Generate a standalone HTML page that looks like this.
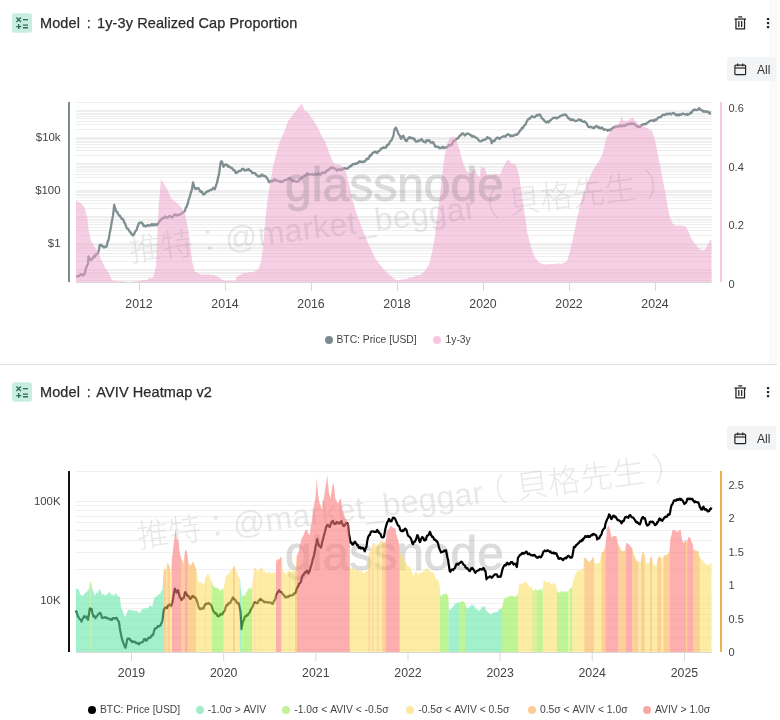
<!DOCTYPE html>
<html lang="zh-Hant"><head><meta charset="utf-8"><title>Models</title>
<style>
html,body{margin:0;padding:0;background:#fff;}
body{width:780px;height:720px;position:relative;overflow:hidden;font-family:"Liberation Sans","Noto Sans CJK TC",sans-serif;color:#333;}
.hdr{position:absolute;left:0;width:780px;height:90px;}
.ico{position:absolute;left:12px;top:0;width:20px;height:20px;}
.title{position:absolute;left:40px;top:1px;font-size:14.5px;line-height:18px;color:#2b2b2b;white-space:nowrap;letter-spacing:0.1px;-webkit-text-stroke:0.25px #2b2b2b;}
.trash{position:absolute;left:734px;top:3px;width:12.5px;height:14.3px;}
.dots{position:absolute;left:765.8px;top:4px;width:4px;height:12px;}
.all{position:absolute;left:727px;top:44px;width:49px;height:24px;background:#f3f4f6;border-radius:3px;}
.cal{position:absolute;left:7px;top:6px;width:12.5px;height:12.5px;}
.all span{position:absolute;left:30px;top:4.8px;font-size:12px;line-height:16px;color:#333;}
.title b{font-weight:normal;margin:0 2.1px 0 2.6px;}
.band{position:absolute;left:769px;top:0;width:9px;height:364px;background:#fafafa;}
.sep{position:absolute;left:0;top:364px;width:777px;height:1px;background:#dedede;}
svg.chart{position:absolute;left:0;top:0;}
.lg{position:absolute;font-size:10.3px;line-height:14px;color:#444;white-space:nowrap;}
.lg i{position:absolute;width:8px;height:8px;border-radius:50%;top:3px;}
.lg span{position:absolute;top:0;}
</style></head><body>
<div class="band"></div>
<div class="hdr" style="top:13px"><svg class="ico" viewBox="0 0 20 20"><rect width="20" height="19.4" y="0.3" rx="2.5" fill="#c9ede0"/><g stroke="#2f6f55" stroke-width="1.35" fill="none"><path d="M4.4 4.5l4.6 4.6M9 4.5l-4.6 4.6"/><path d="M10.9 6.7h5.1"/><path d="M6.7 11.1v5M4.2 13.6h5"/><path d="M10.9 12.1h5.1M10.9 14.7h5.1"/></g></svg><span class="title">Model <b>:</b> 1y-3y Realized Cap Proportion</span><svg class="trash" viewBox="0 0 14 16" fill="none" stroke="#222" stroke-width="1.4"><path d="M4.8 1h4.4"/><path d="M0.6 3.4h12.8"/><path d="M2.2 3.4v10.9h9.6V3.4"/><path d="M5.4 5.6v6.6M8.6 5.6v6.6"/></svg><svg class="dots" viewBox="0 0 4 12"><rect x="0.9" y="0.9" width="2.3" height="2.3" rx="0.6" fill="#222"/><rect x="0.9" y="4.9" width="2.3" height="2.3" rx="0.6" fill="#222"/><rect x="0.9" y="8.9" width="2.3" height="2.3" rx="0.6" fill="#222"/></svg><div class="all"><svg class="cal" viewBox="0 0 14 14" fill="none" stroke="#222" stroke-width="1.3"><rect x="1" y="2.3" width="12" height="10.8" rx="1.2"/><path d="M1 5.6h12"/><path d="M4.2 0.6v3M9.8 0.6v3"/></svg><span>All</span></div></div>
<div class="hdr" style="top:382px"><svg class="ico" viewBox="0 0 20 20"><rect width="20" height="19.4" y="0.3" rx="2.5" fill="#c9ede0"/><g stroke="#2f6f55" stroke-width="1.35" fill="none"><path d="M4.4 4.5l4.6 4.6M9 4.5l-4.6 4.6"/><path d="M10.9 6.7h5.1"/><path d="M6.7 11.1v5M4.2 13.6h5"/><path d="M10.9 12.1h5.1M10.9 14.7h5.1"/></g></svg><span class="title">Model <b>:</b> AVIV Heatmap v2</span><svg class="trash" viewBox="0 0 14 16" fill="none" stroke="#222" stroke-width="1.4"><path d="M4.8 1h4.4"/><path d="M0.6 3.4h12.8"/><path d="M2.2 3.4v10.9h9.6V3.4"/><path d="M5.4 5.6v6.6M8.6 5.6v6.6"/></svg><svg class="dots" viewBox="0 0 4 12"><rect x="0.9" y="0.9" width="2.3" height="2.3" rx="0.6" fill="#222"/><rect x="0.9" y="4.9" width="2.3" height="2.3" rx="0.6" fill="#222"/><rect x="0.9" y="8.9" width="2.3" height="2.3" rx="0.6" fill="#222"/></svg><div class="all"><svg class="cal" viewBox="0 0 14 14" fill="none" stroke="#222" stroke-width="1.3"><rect x="1" y="2.3" width="12" height="10.8" rx="1.2"/><path d="M1 5.6h12"/><path d="M4.2 0.6v3M9.8 0.6v3"/></svg><span>All</span></div></div>
<div class="sep"></div>
<svg class="chart" width="780" height="720" viewBox="0 0 780 720" font-family='"Liberation Sans","Noto Sans CJK TC",sans-serif'>
<!-- chart 1 -->
<g stroke="#eeeeee" stroke-width="1" shape-rendering="crispEdges"><line x1="76" x2="712" y1="280.5" y2="280.5"/><line x1="76" x2="712" y1="277.5" y2="277.5"/><line x1="76" x2="712" y1="275.5" y2="275.5"/><line x1="76" x2="712" y1="273.5" y2="273.5"/><line x1="76" x2="712" y1="272.5" y2="272.5"/><line x1="76" x2="712" y1="270.5" y2="270.5"/><line x1="76" x2="712" y1="269.5" y2="269.5"/><line x1="76" x2="712" y1="261.5" y2="261.5"/><line x1="76" x2="712" y1="256.5" y2="256.5"/><line x1="76" x2="712" y1="253.5" y2="253.5"/><line x1="76" x2="712" y1="250.5" y2="250.5"/><line x1="76" x2="712" y1="248.5" y2="248.5"/><line x1="76" x2="712" y1="247.5" y2="247.5"/><line x1="76" x2="712" y1="245.5" y2="245.5"/><line x1="76" x2="712" y1="244.5" y2="244.5"/><line x1="76" x2="712" y1="243.5" y2="243.5"/><line x1="76" x2="712" y1="235.5" y2="235.5"/><line x1="76" x2="712" y1="230.5" y2="230.5"/><line x1="76" x2="712" y1="227.5" y2="227.5"/><line x1="76" x2="712" y1="224.5" y2="224.5"/><line x1="76" x2="712" y1="222.5" y2="222.5"/><line x1="76" x2="712" y1="220.5" y2="220.5"/><line x1="76" x2="712" y1="219.5" y2="219.5"/><line x1="76" x2="712" y1="217.5" y2="217.5"/><line x1="76" x2="712" y1="216.5" y2="216.5"/><line x1="76" x2="712" y1="208.5" y2="208.5"/><line x1="76" x2="712" y1="203.5" y2="203.5"/><line x1="76" x2="712" y1="200.5" y2="200.5"/><line x1="76" x2="712" y1="197.5" y2="197.5"/><line x1="76" x2="712" y1="195.5" y2="195.5"/><line x1="76" x2="712" y1="194.5" y2="194.5"/><line x1="76" x2="712" y1="192.5" y2="192.5"/><line x1="76" x2="712" y1="191.5" y2="191.5"/><line x1="76" x2="712" y1="190.5" y2="190.5"/><line x1="76" x2="712" y1="182.5" y2="182.5"/><line x1="76" x2="712" y1="177.5" y2="177.5"/><line x1="76" x2="712" y1="174.5" y2="174.5"/><line x1="76" x2="712" y1="171.5" y2="171.5"/><line x1="76" x2="712" y1="169.5" y2="169.5"/><line x1="76" x2="712" y1="167.5" y2="167.5"/><line x1="76" x2="712" y1="166.5" y2="166.5"/><line x1="76" x2="712" y1="164.5" y2="164.5"/><line x1="76" x2="712" y1="163.5" y2="163.5"/><line x1="76" x2="712" y1="155.5" y2="155.5"/><line x1="76" x2="712" y1="150.5" y2="150.5"/><line x1="76" x2="712" y1="147.5" y2="147.5"/><line x1="76" x2="712" y1="144.5" y2="144.5"/><line x1="76" x2="712" y1="142.5" y2="142.5"/><line x1="76" x2="712" y1="141.5" y2="141.5"/><line x1="76" x2="712" y1="139.5" y2="139.5"/><line x1="76" x2="712" y1="138.5" y2="138.5"/><line x1="76" x2="712" y1="137.5" y2="137.5"/><line x1="76" x2="712" y1="129.5" y2="129.5"/><line x1="76" x2="712" y1="124.5" y2="124.5"/><line x1="76" x2="712" y1="121.5" y2="121.5"/><line x1="76" x2="712" y1="118.5" y2="118.5"/><line x1="76" x2="712" y1="116.5" y2="116.5"/><line x1="76" x2="712" y1="114.5" y2="114.5"/><line x1="76" x2="712" y1="113.5" y2="113.5"/><line x1="76" x2="712" y1="111.5" y2="111.5"/><line x1="76" x2="712" y1="110.5" y2="110.5"/><line x1="76" x2="712" y1="102.5" y2="102.5"/></g>
<line x1="76" x2="712" y1="282.5" y2="282.5" stroke="#d8d8d8"/>
<g stroke="#d8d8d8" stroke-width="1"><line x1="139.5" x2="139.5" y1="283" y2="291"/><line x1="225.5" x2="225.5" y1="283" y2="291"/><line x1="311.5" x2="311.5" y1="283" y2="291"/><line x1="397.5" x2="397.5" y1="283" y2="291"/><line x1="483.5" x2="483.5" y1="283" y2="291"/><line x1="569.5" x2="569.5" y1="283" y2="291"/><line x1="655.5" x2="655.5" y1="283" y2="291"/></g>
<path d="M76.0 275.9 L76.8 276.1 L77.5 276.2 L78.2 276.4 L79.0 276.0 L79.8 275.3 L80.5 274.3 L81.2 274.2 L81.9 275.1 L82.6 275.0 L83.3 275.4 L84.0 274.0 L84.8 273.9 L85.4 270.6 L86.0 268.1 L86.7 267.0 L87.3 264.8 L88.0 264.0 L88.5 256.5 L89.1 258.0 L89.8 259.2 L90.4 258.9 L91.0 260.2 L91.8 258.9 L92.5 258.8 L93.2 257.4 L94.0 256.2 L94.8 257.0 L95.5 255.3 L96.2 253.9 L97.0 254.2 L97.8 253.6 L98.5 251.6 L99.1 249.0 L99.8 244.8 L100.5 245.4 L101.2 244.8 L102.0 246.0 L102.8 246.3 L103.5 246.4 L104.2 247.6 L105.0 246.8 L105.8 246.7 L106.5 246.7 L107.2 243.8 L107.8 241.4 L108.5 240.1 L109.1 236.9 L109.8 232.6 L110.4 230.1 L111.0 226.7 L111.6 222.6 L112.2 219.8 L112.9 215.9 L113.5 211.8 L114.2 204.9 L115.1 208.2 L116.0 210.4 L116.8 212.3 L117.5 212.1 L118.2 213.9 L119.0 215.5 L119.8 215.5 L120.4 217.0 L121.0 217.5 L121.6 218.7 L122.2 219.0 L122.9 219.0 L123.5 220.0 L124.1 222.4 L124.8 223.0 L125.5 224.7 L126.2 226.7 L127.0 228.4 L127.8 228.7 L128.5 229.5 L129.2 230.7 L130.0 232.3 L130.8 232.4 L131.5 234.1 L132.2 234.9 L132.8 235.5 L133.5 234.3 L134.1 234.3 L134.8 232.2 L135.4 231.1 L136.0 230.7 L136.8 229.5 L137.5 226.7 L138.2 225.5 L139.0 222.8 L139.7 222.8 L140.3 222.7 L140.9 222.5 L141.6 222.4 L142.2 223.3 L142.9 224.2 L143.5 225.9 L144.1 225.4 L144.8 225.7 L145.5 226.5 L146.2 226.1 L147.0 225.6 L147.8 224.9 L148.5 225.2 L149.2 225.8 L149.9 225.4 L150.6 225.1 L151.4 224.2 L152.1 225.4 L152.8 224.3 L153.5 224.8 L154.2 225.2 L155.0 224.1 L155.8 224.6 L156.5 225.2 L157.2 224.4 L158.0 224.2 L158.8 222.2 L159.5 221.3 L160.2 220.0 L161.0 220.1 L161.8 218.9 L162.5 218.0 L163.2 218.3 L164.0 217.8 L164.8 216.5 L165.4 217.0 L166.0 217.0 L166.6 217.7 L167.2 217.7 L168.0 217.1 L168.8 216.8 L169.5 216.0 L170.2 216.0 L171.0 216.8 L171.7 217.5 L172.4 217.0 L173.1 216.4 L173.9 215.6 L174.6 214.6 L175.3 214.3 L176.0 215.0 L176.7 215.5 L177.4 214.6 L178.1 214.9 L178.9 214.9 L179.6 214.6 L180.3 214.3 L181.0 213.7 L181.8 213.2 L182.5 213.2 L183.2 212.2 L184.0 211.9 L184.7 211.0 L185.3 209.6 L185.9 207.4 L186.6 206.9 L187.2 204.9 L187.9 203.2 L188.5 200.1 L189.1 198.6 L189.8 196.7 L190.4 194.5 L191.1 191.9 L191.8 189.8 L192.4 186.4 L193.0 182.5 L193.9 185.3 L194.8 188.5 L195.5 188.8 L196.2 189.0 L197.0 188.1 L197.8 188.5 L198.5 188.1 L199.1 189.3 L199.8 190.6 L200.4 191.7 L201.0 191.2 L201.6 192.2 L202.2 192.0 L202.9 193.7 L203.5 194.6 L204.1 194.1 L204.8 193.7 L205.4 193.3 L206.0 192.5 L206.8 191.4 L207.5 191.7 L208.2 191.2 L209.0 191.0 L209.8 190.1 L210.4 190.0 L211.1 190.0 L211.7 189.6 L212.3 189.4 L213.0 188.0 L213.9 187.9 L214.8 189.2 L215.4 187.6 L216.0 185.2 L216.6 183.9 L217.2 182.1 L218.1 177.5 L219.0 174.3 L219.8 168.4 L220.5 163.3 L221.1 161.5 L221.8 161.4 L222.6 163.5 L223.5 166.8 L224.1 165.1 L224.8 165.0 L225.4 164.5 L226.0 164.4 L226.8 165.2 L227.5 165.2 L228.2 166.8 L229.0 166.2 L229.8 167.2 L230.5 167.2 L231.2 167.9 L232.0 167.9 L232.8 169.6 L233.5 169.9 L234.2 170.0 L235.0 171.8 L235.8 172.7 L236.0 173.0 L236.6 172.1 L237.2 171.8 L237.9 172.2 L238.5 171.3 L239.2 170.9 L239.9 171.1 L240.6 170.8 L241.4 169.9 L242.1 168.9 L242.8 169.1 L243.5 169.0 L244.2 170.0 L245.0 170.7 L245.8 170.3 L246.5 169.7 L247.2 170.0 L248.0 169.4 L248.8 169.2 L249.5 170.3 L250.2 171.1 L251.0 171.1 L251.7 171.8 L252.4 173.1 L253.1 172.9 L253.9 173.2 L254.6 173.1 L255.3 173.3 L256.0 174.8 L256.8 174.8 L257.5 176.0 L258.2 176.6 L259.0 176.4 L259.8 175.8 L260.4 176.4 L261.0 175.7 L261.6 174.9 L262.2 174.4 L263.0 175.8 L263.8 175.9 L264.5 175.8 L265.2 176.3 L266.0 176.6 L266.6 177.7 L267.2 178.6 L267.9 179.3 L268.5 180.9 L269.1 182.2 L269.8 181.7 L270.5 181.4 L271.2 180.6 L272.0 181.4 L272.8 181.3 L273.5 180.0 L274.2 179.6 L274.9 179.3 L275.6 180.8 L276.4 180.3 L277.1 180.7 L277.8 180.7 L278.5 180.9 L279.2 181.4 L280.0 181.9 L280.8 181.1 L281.5 182.1 L282.2 181.9 L283.0 181.5 L283.8 180.8 L284.5 180.2 L285.2 180.1 L286.0 179.9 L286.8 179.3 L287.5 179.6 L288.2 179.3 L289.0 177.9 L289.8 177.8 L290.5 178.2 L291.2 179.8 L292.0 180.8 L292.8 180.9 L293.5 180.4 L294.2 181.1 L295.0 181.0 L295.8 181.3 L296.5 181.8 L297.2 181.8 L298.0 181.1 L298.8 181.2 L299.5 179.9 L300.2 178.8 L301.0 178.6 L301.8 177.5 L302.5 176.7 L303.2 177.1 L304.0 175.6 L304.8 175.9 L305.4 175.7 L306.0 174.7 L306.6 173.5 L307.2 173.4 L307.9 174.6 L308.5 173.7 L309.1 174.1 L309.8 174.5 L310.5 174.6 L311.2 174.4 L312.0 173.9 L312.8 174.6 L313.5 175.2 L314.2 174.2 L315.0 173.7 L315.8 174.6 L316.5 174.9 L317.2 174.3 L318.0 173.3 L318.8 173.8 L319.5 174.6 L320.2 175.0 L321.0 173.9 L321.7 172.8 L322.4 173.3 L323.1 172.3 L323.9 172.4 L324.6 173.0 L325.3 172.7 L326.0 171.4 L326.7 170.5 L327.4 171.1 L328.1 169.7 L328.9 169.6 L329.6 169.0 L330.3 167.9 L331.0 168.2 L331.8 167.5 L332.5 167.4 L333.2 168.0 L334.0 167.9 L334.8 168.7 L335.5 168.8 L336.2 169.8 L337.0 170.6 L337.8 169.6 L338.5 169.9 L339.2 169.3 L339.9 169.6 L340.6 169.5 L341.4 170.3 L342.1 169.5 L342.8 168.4 L343.5 169.0 L344.2 168.1 L344.9 168.4 L345.6 168.3 L346.4 168.9 L347.1 168.5 L347.8 168.3 L348.5 167.4 L349.2 167.1 L349.9 166.2 L350.6 166.4 L351.4 165.9 L352.1 164.7 L352.8 164.0 L353.5 164.1 L354.2 164.3 L355.0 163.4 L355.8 163.8 L356.5 163.9 L357.2 162.9 L358.0 163.0 L358.8 161.9 L359.5 161.3 L360.2 161.8 L361.0 161.6 L361.8 162.2 L362.5 161.9 L363.2 161.4 L364.0 162.0 L364.8 161.2 L365.5 160.9 L366.2 159.3 L367.0 158.4 L367.8 159.2 L368.5 158.5 L369.2 157.0 L370.0 155.3 L370.8 155.7 L371.5 154.8 L372.2 153.7 L372.9 152.7 L373.5 152.8 L374.1 152.1 L374.8 151.7 L375.4 151.6 L376.0 152.5 L376.6 152.6 L377.2 153.0 L378.0 151.3 L378.8 151.4 L379.5 150.6 L380.2 150.1 L381.0 148.4 L381.6 148.8 L382.2 148.1 L382.9 147.8 L383.5 147.2 L384.1 148.0 L384.8 147.8 L385.4 147.2 L386.0 147.6 L386.6 146.0 L387.2 144.7 L387.9 145.3 L388.5 144.4 L389.1 144.0 L389.8 141.9 L390.4 141.2 L391.0 141.0 L391.6 140.0 L392.2 138.4 L392.9 137.0 L393.5 135.4 L394.1 131.5 L394.8 128.8 L395.8 127.8 L396.0 127.6 L397.0 130.2 L397.8 131.7 L398.5 134.1 L399.1 134.9 L399.8 135.8 L400.4 137.2 L401.0 138.9 L401.6 137.9 L402.2 136.3 L402.9 136.8 L403.5 135.7 L404.1 137.8 L404.8 139.1 L405.4 140.3 L406.0 140.9 L406.8 141.1 L407.5 139.1 L408.2 138.7 L409.0 137.5 L409.8 137.1 L410.5 138.2 L411.2 137.8 L412.0 138.0 L412.8 138.0 L413.5 139.3 L414.2 138.8 L415.0 139.7 L415.8 141.6 L416.5 141.5 L417.2 141.8 L418.0 141.2 L418.8 140.4 L419.5 140.6 L420.2 140.5 L421.0 139.3 L421.8 139.2 L422.5 140.2 L423.2 141.5 L424.0 141.9 L424.8 141.6 L425.5 142.5 L426.2 140.8 L427.0 140.0 L427.8 140.9 L428.5 140.6 L429.2 140.1 L429.9 141.0 L430.6 142.5 L431.4 142.6 L432.1 142.5 L432.8 142.0 L433.5 142.6 L434.1 144.3 L434.8 145.1 L435.4 146.9 L436.0 146.8 L436.8 146.7 L437.5 146.5 L438.2 147.3 L439.0 147.2 L439.8 148.4 L440.5 148.0 L441.2 147.8 L442.0 147.2 L442.8 146.7 L443.5 148.3 L444.2 147.5 L445.0 147.6 L445.8 147.4 L446.5 147.5 L447.2 147.0 L448.0 146.0 L448.8 145.0 L449.5 145.1 L450.2 145.6 L451.0 144.7 L451.8 144.7 L452.5 143.0 L453.2 141.3 L454.0 141.0 L454.8 140.6 L455.5 140.0 L456.2 139.0 L457.0 138.6 L457.8 138.3 L458.5 137.6 L459.2 136.5 L460.0 135.5 L460.8 135.4 L461.5 133.9 L462.1 133.4 L462.8 133.6 L463.4 133.5 L464.1 134.8 L464.8 135.5 L465.5 135.0 L466.2 134.2 L467.0 133.5 L467.8 133.4 L468.5 133.8 L469.2 134.0 L470.0 135.1 L470.8 135.3 L471.5 135.2 L472.2 136.9 L473.0 136.2 L473.8 136.3 L474.5 136.7 L475.2 137.2 L476.0 137.6 L476.8 137.9 L477.5 138.4 L478.2 139.8 L479.0 140.4 L479.8 141.2 L480.5 141.3 L481.2 141.2 L482.0 140.7 L482.8 140.0 L483.5 139.9 L484.2 139.7 L485.0 139.8 L485.8 139.2 L486.5 138.6 L487.2 137.1 L487.9 138.2 L488.5 138.1 L489.1 137.8 L489.8 138.4 L490.4 139.1 L491.1 140.6 L491.8 143.1 L492.5 142.0 L493.2 140.8 L494.0 141.2 L494.8 140.8 L495.5 139.3 L496.2 138.3 L497.0 137.7 L497.8 137.6 L498.5 138.3 L499.2 139.0 L499.9 138.6 L500.6 137.6 L501.4 137.3 L502.1 137.0 L502.8 136.6 L503.5 136.4 L504.2 136.1 L504.9 136.6 L505.6 136.6 L506.4 135.1 L507.1 135.0 L507.8 134.1 L508.5 134.5 L509.2 134.6 L510.0 135.8 L510.8 136.3 L511.5 135.3 L512.2 135.5 L513.0 136.1 L513.8 135.5 L514.5 135.0 L515.2 134.6 L516.0 134.7 L516.8 134.9 L517.5 133.7 L518.2 133.6 L519.0 132.4 L519.8 130.6 L520.5 130.5 L521.2 129.3 L522.0 127.7 L522.8 128.2 L523.5 126.7 L524.1 125.9 L524.8 125.0 L525.4 124.9 L526.0 123.3 L526.6 121.8 L527.2 120.7 L527.9 119.4 L528.5 119.3 L529.2 118.4 L530.0 118.5 L530.8 117.3 L531.5 116.6 L532.2 116.1 L533.0 116.9 L533.8 117.2 L534.5 117.3 L535.2 116.8 L536.0 115.9 L536.8 115.0 L537.5 115.7 L538.2 115.4 L539.0 114.6 L539.6 114.5 L540.3 114.9 L541.0 116.6 L541.6 118.2 L542.2 118.1 L542.9 119.3 L543.5 119.4 L544.1 120.4 L544.8 121.2 L545.5 121.8 L546.2 122.5 L547.0 122.1 L547.8 121.3 L548.5 122.3 L549.2 121.8 L550.0 120.6 L550.8 120.1 L551.5 119.4 L552.2 118.8 L553.0 118.0 L553.6 117.9 L554.4 117.8 L555.0 118.0 L555.8 117.4 L556.0 117.9 L556.8 118.3 L557.5 118.3 L558.2 117.6 L559.0 117.1 L559.8 116.1 L560.5 116.4 L561.2 115.5 L562.0 115.3 L562.8 115.3 L563.5 114.7 L564.2 114.8 L565.0 114.5 L565.8 114.6 L566.5 115.5 L567.2 116.8 L568.0 117.8 L568.8 118.6 L569.5 118.4 L570.2 119.8 L571.0 119.5 L571.8 120.0 L572.5 119.1 L573.2 120.0 L574.0 120.3 L574.8 120.6 L575.5 121.2 L576.2 120.8 L577.0 120.7 L577.8 120.4 L578.5 119.4 L579.2 119.3 L580.0 119.7 L580.8 120.8 L581.5 120.3 L582.2 121.2 L583.0 121.8 L583.8 121.9 L584.5 121.3 L585.2 122.0 L586.0 122.7 L586.8 123.7 L587.5 125.4 L588.2 126.7 L589.0 127.1 L589.8 127.1 L590.5 126.5 L591.2 127.2 L592.0 127.4 L592.8 127.9 L593.5 127.5 L594.2 128.1 L595.0 127.0 L595.8 126.4 L596.5 126.0 L597.2 126.4 L598.0 127.6 L598.8 126.9 L599.5 127.7 L600.2 128.5 L601.0 128.1 L601.8 127.4 L602.5 128.1 L603.2 129.1 L604.0 129.8 L604.8 129.5 L605.5 129.6 L606.2 129.6 L607.0 129.8 L607.8 130.9 L608.5 130.3 L609.2 129.6 L610.0 129.7 L610.8 130.4 L611.5 129.1 L612.2 128.5 L613.0 127.3 L613.8 127.6 L614.5 127.7 L615.2 126.7 L616.0 126.5 L616.8 126.4 L617.5 126.6 L618.2 126.7 L619.0 126.7 L619.8 125.5 L620.5 125.3 L621.2 126.0 L622.0 126.5 L622.8 125.4 L623.5 125.4 L624.2 125.6 L625.0 125.9 L625.8 124.6 L626.5 124.7 L627.2 124.5 L628.0 124.7 L628.8 123.9 L629.5 123.7 L630.2 123.6 L631.0 124.3 L631.8 123.3 L632.5 124.0 L633.2 123.3 L634.0 124.1 L634.8 124.2 L635.5 125.2 L636.2 125.8 L637.0 126.1 L637.8 126.8 L638.5 126.6 L639.2 126.9 L640.0 127.3 L640.8 125.8 L641.5 125.0 L642.2 125.1 L643.0 124.1 L643.8 124.1 L644.5 124.1 L645.2 124.4 L646.0 124.2 L646.8 122.9 L647.5 122.5 L648.2 122.3 L649.0 121.6 L649.8 121.0 L650.5 120.9 L651.2 120.5 L652.0 120.7 L652.8 120.4 L653.5 120.5 L654.2 121.2 L655.0 119.5 L655.8 119.9 L656.5 119.9 L657.2 119.0 L658.0 117.7 L658.8 117.5 L659.5 117.0 L660.2 117.2 L661.0 117.0 L661.6 116.3 L662.2 115.2 L662.9 114.9 L663.5 114.7 L664.2 115.1 L665.0 114.9 L665.8 114.1 L666.5 113.7 L667.2 114.2 L668.0 114.4 L668.8 113.5 L669.5 113.7 L670.2 113.6 L671.0 114.4 L671.8 113.5 L672.5 113.3 L673.2 112.9 L674.0 113.3 L674.8 114.3 L675.5 114.6 L676.2 114.4 L677.0 115.5 L677.8 114.5 L678.5 114.8 L679.2 115.3 L680.0 114.0 L680.8 114.8 L681.5 114.4 L682.2 114.0 L683.0 113.5 L683.8 114.0 L684.5 114.2 L685.2 114.6 L686.0 114.5 L686.8 113.7 L687.5 114.9 L688.2 114.5 L689.0 114.2 L689.8 113.6 L690.4 112.5 L691.0 113.2 L691.6 112.7 L692.2 111.7 L692.9 110.3 L693.5 109.9 L694.1 110.2 L694.8 109.5 L695.5 109.6 L696.2 110.2 L697.0 110.0 L697.8 109.8 L698.5 108.7 L699.2 108.0 L700.0 109.3 L700.8 109.3 L701.5 110.4 L702.2 110.5 L703.0 111.5 L703.8 110.8 L704.5 111.7 L705.2 111.8 L706.0 111.5 L706.8 111.2 L707.5 112.0 L708.2 111.9 L709.0 112.5 L709.7 113.7 L710.3 112.6 L711.0 112.5" fill="none" stroke="#7f8f91" stroke-width="2.3" stroke-linejoin="round"/>
<path d="M76.0 282.0 L76.0 200.6 L77.0 201.2 L78.0 201.6 L79.0 202.3 L80.0 202.9 L81.0 203.1 L81.9 203.8 L82.9 205.7 L83.8 206.7 L84.8 208.0 L86.0 212.9 L87.2 217.1 L88.5 229.7 L89.8 235.3 L91.0 240.9 L91.9 242.1 L92.9 243.9 L93.8 245.8 L94.8 247.1 L95.7 248.6 L96.6 249.9 L97.6 250.5 L98.5 252.1 L99.8 255.9 L101.0 259.4 L101.9 260.8 L102.9 263.3 L103.8 265.1 L104.8 267.1 L105.7 268.8 L106.6 270.0 L107.6 271.4 L108.5 272.1 L109.8 275.6 L111.0 278.3 L112.2 280.0 L113.5 281.1 L114.5 280.8 L115.6 280.5 L116.6 280.4 L117.7 281.2 L118.7 281.1 L119.8 281.3 L120.8 281.1 L121.8 281.2 L122.9 281.2 L123.9 281.1 L125.0 281.4 L126.0 281.5 L127.0 281.9 L128.0 281.8 L129.0 281.9 L130.0 281.9 L131.0 282.0 L132.0 281.7 L133.0 281.0 L134.0 281.3 L135.0 281.5 L136.0 281.5 L137.0 281.2 L138.0 281.1 L139.0 280.5 L140.0 280.8 L141.0 280.6 L142.0 280.2 L143.0 279.7 L144.0 280.2 L145.0 280.6 L146.0 279.9 L146.9 279.9 L147.9 279.3 L148.8 278.5 L149.8 278.1 L150.7 278.2 L151.6 278.2 L152.6 277.1 L153.5 277.0 L154.8 271.5 L156.0 267.0 L157.2 241.9 L158.5 207.1 L159.8 193.3 L161.0 178.4 L162.2 181.4 L163.5 183.3 L164.4 184.5 L165.4 186.3 L166.3 187.4 L167.2 189.2 L168.2 191.3 L169.1 193.8 L170.1 195.7 L171.0 197.9 L172.0 199.0 L173.0 199.6 L174.0 200.9 L175.0 201.8 L176.0 202.1 L177.0 203.1 L178.0 204.1 L179.0 205.2 L180.0 206.2 L181.0 207.1 L181.9 208.5 L182.9 210.1 L183.8 211.1 L184.8 212.1 L186.0 218.5 L187.2 224.4 L188.5 233.0 L189.8 242.2 L191.0 252.2 L192.2 262.1 L193.5 266.6 L194.8 271.8 L195.8 272.3 L196.8 272.3 L197.9 273.1 L198.9 273.7 L200.0 273.7 L201.0 274.4 L202.0 274.5 L203.1 274.7 L204.1 274.5 L205.2 274.8 L206.2 275.0 L207.2 274.5 L208.3 274.2 L209.3 274.7 L210.4 275.3 L211.4 274.9 L212.5 274.9 L213.5 275.0 L214.5 275.4 L215.6 275.9 L216.6 276.3 L217.7 276.9 L218.7 277.6 L219.8 278.1 L220.7 278.6 L221.6 279.6 L222.6 279.7 L223.5 280.7 L224.5 280.9 L225.5 280.6 L226.6 280.4 L227.6 280.9 L228.6 280.6 L229.6 280.3 L230.6 280.5 L231.7 280.8 L232.7 280.4 L233.7 280.4 L234.7 280.4 L235.8 280.8 L236.0 277.0 L236.9 276.9 L237.9 275.9 L238.8 275.4 L239.8 275.1 L240.7 275.1 L241.6 274.4 L242.6 273.5 L243.5 273.0 L244.5 272.9 L245.5 272.5 L246.6 272.8 L247.6 273.0 L248.6 272.3 L249.6 272.0 L250.7 272.3 L251.7 272.2 L252.7 272.2 L253.7 271.7 L254.8 271.3 L255.7 270.6 L256.6 270.6 L257.6 269.8 L258.5 269.4 L259.8 265.5 L261.0 261.9 L262.0 254.3 L263.0 247.2 L263.9 236.8 L264.8 226.7 L266.0 214.6 L267.2 202.2 L268.5 194.0 L269.8 184.7 L270.7 180.1 L271.6 175.3 L272.6 169.6 L273.5 164.7 L274.4 161.3 L275.4 157.4 L276.3 153.5 L277.2 149.5 L278.2 146.8 L279.1 144.1 L280.1 141.4 L281.0 139.4 L282.0 136.6 L283.0 134.6 L284.0 131.6 L285.0 129.7 L286.0 127.1 L287.2 123.8 L288.5 119.9 L289.4 119.4 L290.4 118.1 L291.3 116.5 L292.2 115.8 L293.2 114.2 L294.1 112.9 L295.1 112.0 L296.0 110.8 L296.9 109.4 L297.9 108.6 L298.8 107.3 L299.8 105.8 L301.0 104.6 L302.2 104.1 L303.5 107.5 L304.8 110.9 L305.7 111.4 L306.6 111.7 L307.6 112.5 L308.5 113.4 L309.4 114.3 L310.4 115.9 L311.3 117.5 L312.2 118.5 L313.2 120.5 L314.1 121.2 L315.1 123.0 L316.0 124.7 L317.0 126.3 L318.0 128.1 L319.0 130.1 L320.0 132.3 L321.0 134.4 L322.0 136.4 L323.0 138.7 L324.0 140.1 L325.0 141.8 L326.0 144.1 L326.9 146.2 L327.9 148.6 L328.8 152.0 L329.8 154.7 L330.7 156.5 L331.6 158.8 L332.6 160.8 L333.5 163.1 L334.4 163.2 L335.4 163.8 L336.3 164.3 L337.2 164.4 L338.2 164.4 L339.1 164.8 L340.1 164.9 L341.0 165.6 L341.9 166.8 L342.9 167.5 L343.8 168.1 L344.8 169.2 L346.0 172.8 L347.2 176.9 L348.5 182.2 L349.8 187.0 L351.0 193.5 L352.2 199.6 L353.2 202.7 L354.1 205.7 L355.1 208.8 L356.0 212.1 L356.9 214.5 L357.9 217.2 L358.8 219.6 L359.8 221.9 L360.7 224.4 L361.6 227.1 L362.6 229.2 L363.5 231.9 L364.4 234.0 L365.4 236.6 L366.3 239.1 L367.2 240.8 L368.2 243.4 L369.1 245.7 L370.1 247.4 L371.0 249.5 L371.9 251.0 L372.9 253.4 L373.8 255.3 L374.8 257.3 L375.8 259.1 L376.8 260.5 L377.8 262.0 L378.8 263.3 L379.8 264.4 L380.7 265.7 L381.6 266.5 L382.6 267.6 L383.5 269.5 L384.5 270.0 L385.5 270.8 L386.5 271.7 L387.5 273.5 L388.5 274.3 L389.4 274.5 L390.4 275.7 L391.3 276.0 L392.2 277.1 L393.1 277.7 L394.0 278.5 L394.9 279.2 L395.8 279.2 L396.0 280.3 L397.0 279.7 L398.0 280.0 L399.0 279.8 L400.0 279.9 L401.0 279.3 L402.0 279.5 L403.0 279.8 L404.0 279.0 L405.0 278.8 L406.0 279.0 L406.9 279.0 L407.9 278.4 L408.8 277.9 L409.8 277.5 L410.7 277.6 L411.6 277.7 L412.6 277.2 L413.5 276.9 L414.4 276.5 L415.4 276.1 L416.3 275.8 L417.2 275.2 L418.2 275.1 L419.1 275.4 L420.1 274.9 L421.0 274.6 L422.0 273.3 L423.0 272.6 L424.0 271.8 L425.0 270.8 L426.0 269.6 L426.9 267.7 L427.9 265.9 L428.8 264.4 L429.8 262.0 L431.0 256.6 L432.2 252.0 L433.5 244.9 L434.8 237.1 L436.0 227.1 L437.2 217.1 L438.5 206.8 L439.8 196.8 L441.0 185.3 L442.2 174.4 L443.5 164.2 L444.8 154.3 L446.0 148.8 L447.2 143.5 L448.5 140.4 L449.8 137.6 L450.7 137.3 L451.6 137.4 L452.6 137.0 L453.5 136.5 L454.8 137.7 L456.0 139.2 L457.2 142.9 L458.5 146.8 L459.8 150.9 L461.0 155.5 L462.2 159.7 L463.5 164.5 L464.4 166.0 L465.4 168.6 L466.3 170.3 L467.2 172.1 L468.2 172.4 L469.1 173.0 L470.1 173.5 L471.0 173.4 L471.9 172.2 L472.9 171.1 L473.8 170.0 L474.8 168.3 L476.0 171.7 L477.2 174.8 L478.5 176.1 L479.8 177.0 L481.0 166.8 L481.9 167.2 L482.9 167.4 L483.8 167.9 L484.8 167.8 L486.0 171.7 L487.2 175.6 L488.2 175.2 L489.1 174.9 L490.1 175.1 L491.0 175.2 L492.0 175.2 L493.0 174.4 L494.0 174.4 L495.0 173.6 L496.0 173.2 L496.9 174.1 L497.9 174.2 L498.8 174.5 L499.8 175.8 L501.0 172.4 L502.2 169.4 L503.2 167.6 L504.1 165.9 L505.1 163.5 L506.0 161.8 L507.2 160.5 L508.5 159.4 L509.8 161.0 L511.0 163.2 L511.9 163.8 L512.9 163.7 L513.8 163.9 L514.8 163.8 L516.0 165.7 L517.2 168.2 L518.5 173.5 L519.8 179.6 L521.0 188.7 L522.2 196.9 L523.5 206.1 L524.8 214.5 L526.0 223.6 L527.2 232.2 L528.2 235.8 L529.1 239.7 L530.1 243.5 L531.0 247.2 L531.9 249.5 L532.9 252.3 L533.8 255.1 L534.8 257.3 L535.7 258.6 L536.6 259.3 L537.6 260.6 L538.5 261.9 L539.5 262.6 L540.5 263.2 L541.5 263.7 L542.5 263.8 L543.5 264.5 L544.4 264.6 L545.4 264.1 L546.3 264.6 L547.2 264.5 L548.2 264.0 L549.1 264.4 L550.1 263.9 L551.0 263.9 L552.0 264.1 L552.9 264.1 L553.9 264.1 L554.8 264.2 L555.8 264.0 L556.0 263.9 L556.9 263.5 L557.9 263.2 L558.8 263.6 L559.8 263.8 L560.7 263.7 L561.6 263.8 L562.6 263.4 L563.5 263.1 L564.4 262.4 L565.4 262.2 L566.3 261.1 L567.2 260.7 L568.5 256.0 L569.8 252.0 L571.0 246.9 L572.2 241.9 L573.5 235.5 L574.8 229.5 L576.0 223.5 L577.2 217.0 L578.2 213.6 L579.1 209.3 L580.1 205.4 L581.0 201.7 L581.9 198.2 L582.9 195.6 L583.8 192.8 L584.8 189.4 L585.7 186.6 L586.6 184.2 L587.6 182.1 L588.5 179.7 L589.5 177.9 L590.5 175.8 L591.5 173.3 L592.5 171.3 L593.5 169.3 L594.5 167.8 L595.5 166.5 L596.5 164.7 L597.5 163.1 L598.5 162.0 L599.4 159.7 L600.4 158.3 L601.3 156.8 L602.2 154.8 L603.5 149.8 L604.8 144.6 L606.0 140.3 L607.2 135.9 L608.2 134.8 L609.1 133.1 L610.1 131.1 L611.0 129.7 L612.0 129.0 L613.0 128.2 L614.0 127.6 L615.0 126.2 L616.0 125.8 L616.9 125.0 L617.9 124.0 L618.8 123.0 L619.8 122.0 L620.6 118.9 L621.5 116.4 L622.2 118.1 L623.0 120.6 L624.1 120.7 L625.1 120.7 L626.2 120.8 L627.2 121.0 L628.2 120.8 L629.1 119.5 L630.1 119.2 L631.0 118.4 L632.2 116.9 L633.5 118.6 L634.8 120.5 L635.7 120.9 L636.6 122.1 L637.6 123.4 L638.5 124.0 L639.5 124.7 L640.5 125.1 L641.5 124.9 L642.5 125.7 L643.5 125.9 L644.5 126.8 L645.5 127.3 L646.5 127.8 L647.5 127.9 L648.5 128.4 L649.4 129.5 L650.4 130.2 L651.3 130.5 L652.2 131.0 L653.5 135.4 L654.8 139.4 L656.0 145.1 L657.2 151.6 L658.5 157.5 L659.8 164.1 L661.0 170.3 L662.2 177.0 L663.5 183.3 L664.8 189.5 L666.0 197.1 L667.2 204.4 L668.5 210.6 L669.8 217.1 L671.0 220.1 L672.2 223.1 L673.2 224.1 L674.1 224.8 L675.1 225.2 L676.0 225.7 L677.0 225.7 L678.0 225.8 L679.0 225.5 L680.0 225.1 L681.0 225.4 L682.0 225.9 L683.0 225.9 L684.0 226.2 L685.0 226.3 L686.0 226.7 L687.2 228.9 L688.5 231.8 L689.8 234.6 L691.0 237.9 L691.9 239.0 L692.9 240.6 L693.8 242.5 L694.8 244.2 L695.7 244.6 L696.6 245.9 L697.6 246.9 L698.5 248.2 L699.4 248.4 L700.4 249.2 L701.3 249.8 L702.2 250.4 L703.3 250.4 L704.4 249.7 L705.5 249.2 L706.8 246.7 L708.0 244.2 L708.9 242.5 L709.8 240.6 L710.6 239.6 L711.5 239.5 L711.5 282.0Z" fill="#f0a0cc" fill-opacity="0.5"/>
<g opacity="0.24"><text x="394.5" y="201" font-size="48" fill="#707070" stroke="#707070" stroke-width="0.9" stroke-linejoin="round" text-anchor="middle">glassnode</text></g>
<text transform="translate(130.5 262) rotate(-7.2)" font-weight="300" fill="#555" fill-opacity="0.13"><tspan font-size="32.2">推特：</tspan><tspan font-size="32" letter-spacing="0.35">@market_beggar</tspan><tspan font-size="32.2" dx="-9">（</tspan><tspan font-size="32.2" dx="10">貝格先生</tspan><tspan font-size="32.2" dx="9">）</tspan></text>
<rect x="68" y="102" width="2" height="180" fill="#7c8b8e"/>
<rect x="720" y="102" width="2" height="180" fill="#f6c9e2"/>
<g font-size="11.4" fill="#444" text-anchor="end"><text x="60.5" y="141">$10k</text><text x="60.5" y="194">$100</text><text x="60.5" y="247">$1</text></g>
<g font-size="11" fill="#444"><text x="728.5" y="112">0.6</text><text x="728.5" y="170.5">0.4</text><text x="728.5" y="229">0.2</text><text x="728.5" y="287.5">0</text></g>
<g font-size="12.3" fill="#444" text-anchor="middle"><text x="139.0" y="307.9">2012</text><text x="225.0" y="307.9">2014</text><text x="311.0" y="307.9">2016</text><text x="397.0" y="307.9">2018</text><text x="483.0" y="307.9">2020</text><text x="569.0" y="307.9">2022</text><text x="655.0" y="307.9">2024</text></g>
<!-- chart 2 -->
<g stroke="#f0f0f0" stroke-width="1" shape-rendering="crispEdges"><line x1="76" x2="712" y1="649.5" y2="649.5"/><line x1="76" x2="712" y1="637.5" y2="637.5"/><line x1="76" x2="712" y1="628.5" y2="628.5"/><line x1="76" x2="712" y1="620.5" y2="620.5"/><line x1="76" x2="712" y1="614.5" y2="614.5"/><line x1="76" x2="712" y1="608.5" y2="608.5"/><line x1="76" x2="712" y1="603.5" y2="603.5"/><line x1="76" x2="712" y1="598.5" y2="598.5"/><line x1="76" x2="712" y1="569.5" y2="569.5"/><line x1="76" x2="712" y1="552.5" y2="552.5"/><line x1="76" x2="712" y1="540.5" y2="540.5"/><line x1="76" x2="712" y1="530.5" y2="530.5"/><line x1="76" x2="712" y1="522.5" y2="522.5"/><line x1="76" x2="712" y1="516.5" y2="516.5"/><line x1="76" x2="712" y1="510.5" y2="510.5"/><line x1="76" x2="712" y1="505.5" y2="505.5"/><line x1="76" x2="712" y1="501.5" y2="501.5"/><line x1="76" x2="712" y1="471.5" y2="471.5"/><line x1="76" x2="712" y1="471.5" y2="471.5"/></g>
<line x1="76" x2="712" y1="652.5" y2="652.5" stroke="#d8d8d8"/>
<g stroke="#d8d8d8" stroke-width="1"><line x1="131.5" x2="131.5" y1="653" y2="661"/><line x1="223.7" x2="223.7" y1="653" y2="661"/><line x1="315.8" x2="315.8" y1="653" y2="661"/><line x1="408.0" x2="408.0" y1="653" y2="661"/><line x1="500.1" x2="500.1" y1="653" y2="661"/><line x1="592.2" x2="592.2" y1="653" y2="661"/><line x1="684.4" x2="684.4" y1="653" y2="661"/></g>
<g opacity="0.24"><text x="394.5" y="569.5" font-size="48" fill="#707070" stroke="#707070" stroke-width="0.9" stroke-linejoin="round" text-anchor="middle">glassnode</text></g>
<text transform="translate(138.5 548) rotate(-7.4)" font-weight="300" fill="#555" fill-opacity="0.13"><tspan font-size="32.2">推特：</tspan><tspan font-size="32" letter-spacing="0.35">@market_beggar</tspan><tspan font-size="32.2" dx="-9">（</tspan><tspan font-size="32.2" dx="10">貝格先生</tspan><tspan font-size="32.2" dx="9">）</tspan></text>
<path d="M76.0 610.6 L76.7 611.9 L77.3 614.7 L78.0 616.5 L78.9 617.7 L79.8 619.2 L80.6 619.5 L81.5 621.7 L82.2 619.4 L82.8 618.6 L83.5 617.5 L84.1 616.2 L84.8 616.5 L85.4 617.4 L86.0 616.6 L86.7 616.8 L87.3 618.4 L88.0 619.9 L88.9 614.5 L89.8 608.3 L90.6 609.7 L91.5 608.8 L92.2 612.2 L92.8 614.2 L93.5 616.6 L94.2 616.1 L94.8 616.7 L95.5 618.3 L96.1 616.6 L96.8 616.2 L97.4 615.6 L98.0 614.4 L98.9 613.9 L99.8 612.8 L100.4 613.0 L101.0 614.3 L101.6 616.6 L102.2 618.1 L103.0 617.5 L103.8 617.8 L104.5 617.6 L105.2 617.1 L106.0 617.7 L106.8 618.4 L107.5 617.9 L108.2 618.4 L109.0 618.8 L109.8 619.4 L110.5 619.8 L111.2 618.8 L112.0 619.6 L112.8 618.2 L113.5 618.1 L114.2 618.8 L115.0 618.0 L115.8 618.4 L116.5 617.7 L117.2 618.9 L118.1 620.9 L119.0 622.2 L119.8 628.0 L120.5 632.1 L121.4 636.3 L122.2 639.7 L123.1 642.4 L124.0 644.6 L124.8 646.6 L125.5 647.7 L126.4 643.7 L127.2 639.4 L127.9 638.3 L128.5 638.8 L129.1 638.8 L129.8 638.9 L130.4 640.6 L131.0 640.4 L131.6 641.0 L132.2 642.2 L132.9 641.4 L133.6 641.9 L134.2 641.7 L134.8 641.6 L135.5 642.4 L136.2 643.2 L137.0 642.9 L137.8 643.1 L138.5 644.1 L139.2 644.3 L140.0 642.8 L140.8 642.5 L141.5 642.4 L142.1 642.4 L142.8 641.9 L143.4 641.3 L144.0 639.1 L144.6 639.2 L145.2 639.2 L145.9 640.4 L146.5 640.7 L147.2 639.6 L147.8 638.6 L148.4 638.0 L149.1 637.5 L149.8 637.9 L150.4 637.6 L151.1 636.6 L151.7 635.3 L152.3 635.3 L153.0 635.3 L153.9 631.7 L154.8 628.7 L155.4 628.8 L156.0 628.1 L156.6 627.9 L157.2 627.3 L157.9 625.9 L158.5 626.5 L159.1 626.4 L159.8 625.7 L160.4 625.6 L161.0 624.0 L161.6 622.8 L162.2 621.6 L162.9 616.8 L163.5 611.5 L164.2 609.2 L164.8 608.0 L165.5 607.5 L166.4 607.4 L167.2 608.2 L168.1 605.4 L169.0 604.8 L169.7 604.3 L170.3 605.2 L171.0 606.1 L171.7 604.3 L172.3 602.2 L173.0 599.2 L173.9 593.3 L174.8 588.6 L175.6 590.4 L176.5 592.6 L177.2 591.5 L178.0 590.1 L178.9 593.8 L179.8 597.1 L180.6 598.1 L181.5 600.1 L182.2 598.9 L182.8 598.0 L183.5 598.3 L184.2 595.5 L184.8 592.7 L185.5 592.1 L186.4 594.1 L187.2 595.4 L187.9 596.1 L188.5 595.8 L189.1 597.0 L189.8 598.6 L190.4 599.0 L191.0 598.5 L191.6 597.0 L192.2 596.4 L192.9 595.8 L193.5 596.9 L194.1 597.0 L194.8 597.3 L195.4 597.9 L196.0 598.3 L196.6 600.2 L197.2 601.4 L198.1 605.3 L199.0 607.7 L199.7 608.9 L200.3 609.2 L201.0 608.3 L201.6 608.7 L202.2 608.6 L202.9 608.0 L203.5 608.7 L204.1 606.5 L204.8 605.1 L205.4 604.5 L206.0 603.7 L206.6 603.3 L207.2 603.8 L207.9 604.0 L208.5 603.0 L209.1 603.7 L209.8 603.7 L210.4 604.1 L211.0 605.2 L211.6 605.8 L212.2 607.8 L212.9 610.2 L213.5 611.3 L214.1 611.9 L214.8 612.6 L215.4 613.6 L216.0 613.1 L216.6 614.0 L217.2 615.5 L217.9 616.3 L218.5 616.3 L219.1 615.9 L219.8 614.5 L220.4 614.9 L221.0 613.9 L221.6 614.1 L222.2 614.4 L222.9 613.0 L223.5 612.0 L224.1 611.8 L224.8 610.6 L225.4 608.1 L226.0 606.5 L226.6 604.8 L227.2 605.3 L227.9 605.0 L228.5 603.1 L229.1 603.2 L229.8 603.3 L230.4 602.5 L231.0 600.9 L231.6 600.4 L232.2 598.8 L232.9 597.4 L233.5 598.4 L234.2 599.3 L235.0 599.7 L235.8 600.6 L236.0 601.0 L236.6 602.5 L237.2 603.3 L237.9 602.7 L238.5 603.0 L239.2 605.4 L239.8 608.1 L240.5 611.8 L241.5 629.1 L242.2 625.2 L243.0 621.4 L243.9 619.8 L244.8 616.9 L245.4 616.2 L246.0 615.8 L246.6 616.1 L247.2 614.7 L247.9 615.0 L248.5 613.9 L249.1 613.0 L249.8 612.1 L250.4 610.2 L251.0 609.5 L251.6 608.1 L252.2 607.4 L252.9 606.4 L253.5 604.3 L254.1 603.0 L254.8 602.1 L255.4 602.5 L256.0 602.4 L256.6 602.8 L257.2 603.3 L257.9 603.0 L258.5 600.9 L259.1 600.3 L259.8 599.2 L260.5 598.9 L261.2 600.1 L262.0 600.3 L262.8 600.7 L263.5 601.1 L264.2 602.3 L265.0 601.8 L265.8 602.1 L266.5 602.1 L267.2 602.1 L268.0 602.6 L268.8 602.4 L269.5 602.5 L270.2 602.4 L271.0 603.0 L271.6 603.4 L272.2 603.6 L272.9 603.9 L273.5 602.2 L274.1 600.8 L274.8 600.0 L275.4 598.7 L276.0 595.7 L276.6 594.0 L277.2 593.3 L277.9 591.7 L278.5 591.4 L279.1 590.2 L279.8 591.2 L280.4 592.0 L281.0 592.0 L281.6 592.1 L282.2 593.4 L282.9 594.3 L283.5 594.3 L284.1 595.7 L284.8 597.1 L285.4 596.5 L286.0 597.5 L286.6 597.0 L287.2 596.5 L287.9 597.2 L288.5 596.4 L289.2 595.8 L290.0 595.6 L290.8 595.7 L291.5 595.4 L292.2 595.3 L292.9 594.4 L293.6 594.8 L294.2 593.2 L294.9 593.3 L295.5 593.1 L296.4 589.5 L297.2 587.7 L297.9 586.7 L298.5 585.6 L299.1 583.5 L299.8 583.5 L300.4 582.6 L301.0 581.7 L301.6 578.5 L302.2 576.7 L302.9 574.8 L303.5 575.0 L304.1 573.6 L304.8 572.7 L305.4 571.8 L306.0 572.5 L306.6 572.3 L307.2 570.7 L307.9 571.2 L308.5 573.5 L309.1 572.1 L309.8 570.8 L310.4 568.0 L311.0 566.4 L311.6 564.2 L312.2 561.7 L312.9 558.4 L313.5 557.2 L314.2 554.2 L314.8 551.3 L315.5 546.8 L316.4 543.8 L317.2 539.2 L318.1 543.1 L319.0 545.8 L319.7 545.9 L320.3 546.5 L321.0 547.5 L321.7 544.5 L322.3 541.2 L323.0 539.3 L323.9 535.6 L324.8 532.6 L325.4 529.9 L326.0 527.7 L326.6 526.0 L327.2 525.1 L327.9 524.9 L328.5 526.3 L329.1 526.2 L329.8 526.9 L330.4 524.9 L331.0 523.7 L331.6 521.7 L332.2 521.3 L332.9 520.8 L333.5 522.8 L334.1 523.7 L334.8 524.1 L335.4 523.4 L336.0 523.9 L336.6 522.1 L337.2 522.2 L337.9 522.4 L338.5 522.7 L339.1 523.7 L339.8 523.3 L340.6 522.1 L341.5 521.0 L342.2 523.7 L342.8 524.5 L343.5 526.2 L344.1 526.1 L344.8 525.3 L345.4 524.1 L346.0 523.2 L346.9 522.8 L347.8 523.8 L348.4 527.8 L349.0 534.3 L349.8 538.1 L350.5 542.7 L351.4 542.3 L352.2 544.4 L352.9 544.6 L353.5 544.0 L354.1 542.6 L354.8 541.7 L355.4 542.2 L356.0 543.4 L356.6 543.8 L357.2 545.4 L357.9 545.2 L358.5 546.9 L359.1 548.0 L359.8 547.4 L360.4 547.2 L361.0 548.6 L361.6 548.1 L362.2 548.1 L362.9 547.8 L363.5 548.9 L364.1 550.1 L364.8 551.3 L365.6 548.4 L366.5 546.8 L367.2 541.3 L368.0 537.6 L368.9 535.4 L369.8 535.2 L370.4 533.2 L371.0 531.9 L371.6 531.4 L372.2 531.3 L372.9 531.3 L373.5 531.5 L374.1 532.0 L374.8 531.8 L375.4 531.9 L376.0 532.0 L376.6 530.8 L377.2 529.9 L377.9 531.8 L378.5 531.4 L379.1 532.8 L379.8 533.5 L380.4 533.5 L381.0 535.5 L381.6 537.1 L382.2 537.4 L383.1 537.4 L384.0 536.4 L384.8 531.9 L385.5 528.2 L386.4 525.1 L387.2 522.4 L388.1 521.2 L389.0 518.9 L389.7 520.0 L390.3 521.3 L391.0 521.3 L391.6 521.2 L392.2 519.5 L392.9 517.8 L393.5 517.6 L394.2 518.0 L395.0 518.5 L395.8 520.7 L396.0 520.8 L396.6 522.3 L397.2 523.7 L397.9 525.2 L398.5 525.9 L399.1 526.1 L399.8 528.4 L400.4 530.1 L401.0 530.9 L401.6 531.0 L402.2 531.3 L402.9 530.1 L403.5 530.8 L404.1 530.0 L404.8 528.9 L405.4 528.6 L406.0 529.4 L406.6 530.3 L407.2 532.8 L407.9 535.3 L408.5 536.1 L409.1 536.4 L409.8 537.0 L410.4 538.0 L411.0 538.7 L411.7 541.0 L412.3 543.1 L413.0 544.2 L413.6 542.5 L414.2 541.5 L414.9 541.6 L415.5 540.5 L416.4 538.1 L417.2 535.2 L417.9 535.7 L418.5 537.5 L419.1 540.1 L419.8 542.1 L420.4 541.3 L421.0 539.3 L421.6 538.2 L422.2 536.9 L422.9 537.8 L423.5 538.0 L424.1 540.2 L424.8 540.5 L425.4 540.3 L426.0 539.6 L426.6 536.7 L427.2 535.6 L427.9 535.4 L428.5 535.2 L429.1 533.6 L429.8 531.9 L430.4 532.5 L431.0 535.1 L431.6 535.4 L432.2 537.0 L432.9 536.8 L433.5 537.9 L434.1 539.7 L434.8 539.3 L435.4 540.3 L436.0 540.4 L436.6 541.4 L437.2 541.3 L438.1 543.8 L439.0 547.4 L439.7 549.5 L440.3 550.4 L441.0 552.5 L441.6 552.1 L442.2 552.0 L442.9 551.6 L443.5 551.4 L444.1 550.7 L444.8 550.4 L445.4 551.3 L446.0 550.3 L446.7 553.7 L447.3 557.3 L448.0 559.3 L448.9 565.8 L449.8 571.2 L450.4 571.8 L451.0 570.4 L451.6 569.7 L452.2 569.3 L452.9 570.1 L453.5 569.6 L454.1 568.6 L454.8 568.2 L455.4 566.8 L456.0 565.1 L456.6 563.8 L457.2 564.4 L457.9 563.6 L458.5 564.5 L459.1 563.4 L459.8 562.9 L460.4 562.6 L461.0 561.8 L461.6 561.6 L462.2 562.3 L462.9 563.8 L463.5 564.6 L464.1 564.9 L464.8 565.2 L465.4 567.2 L466.0 567.5 L466.6 568.4 L467.2 568.1 L467.9 569.2 L468.5 569.6 L469.1 570.7 L469.8 571.1 L470.4 570.0 L471.0 568.4 L471.6 569.2 L472.2 567.9 L472.9 568.8 L473.5 569.6 L474.1 570.3 L474.8 572.1 L475.4 572.8 L476.0 571.5 L476.6 571.5 L477.2 570.6 L478.0 570.6 L478.8 570.2 L479.5 569.4 L480.2 568.9 L481.0 569.3 L481.8 569.7 L482.5 569.2 L483.2 568.1 L484.0 568.5 L484.8 570.9 L485.5 571.1 L486.5 579.3 L487.1 578.3 L487.8 577.5 L488.4 577.4 L489.0 577.5 L489.6 576.6 L490.3 576.4 L490.9 576.9 L491.6 577.8 L492.2 577.4 L492.9 576.6 L493.5 575.7 L494.1 575.2 L494.8 574.4 L495.5 574.5 L496.2 574.3 L497.0 574.8 L497.8 576.9 L498.5 576.7 L499.1 576.4 L499.8 576.5 L500.4 576.9 L501.0 575.7 L501.7 572.7 L502.3 569.9 L503.0 567.9 L503.9 565.9 L504.8 564.9 L505.4 565.4 L506.0 565.3 L506.6 563.3 L507.2 562.7 L507.9 563.3 L508.5 564.4 L509.1 564.2 L509.8 564.2 L510.4 562.5 L511.0 562.0 L511.6 562.7 L512.2 562.0 L512.9 563.5 L513.5 564.5 L514.1 563.8 L514.8 563.7 L515.4 563.9 L516.1 565.4 L516.8 567.0 L517.4 563.0 L518.0 557.5 L518.9 556.7 L519.8 555.0 L520.5 554.7 L521.2 554.4 L522.0 553.0 L522.8 553.7 L523.5 553.0 L524.1 553.6 L524.8 553.3 L525.4 552.3 L526.0 551.6 L526.6 551.6 L527.2 553.0 L527.9 554.2 L528.5 554.2 L529.2 553.4 L530.0 554.3 L530.8 555.1 L531.5 555.1 L532.2 555.3 L533.0 555.7 L533.8 554.9 L534.5 555.1 L535.2 555.7 L536.0 556.8 L536.8 557.3 L537.5 557.9 L538.2 557.4 L539.0 556.7 L539.8 556.7 L540.4 557.3 L541.0 557.2 L541.6 556.1 L542.2 555.2 L542.9 553.0 L543.5 551.5 L544.1 551.2 L544.8 550.5 L545.4 551.0 L546.0 551.2 L546.8 550.9 L547.5 550.2 L548.2 550.6 L549.0 551.1 L549.8 552.0 L550.5 551.5 L551.2 552.6 L552.0 553.1 L552.8 553.0 L553.5 552.5 L554.2 553.7 L555.0 553.1 L555.8 553.6 L556.0 553.2 L556.6 553.8 L557.2 555.9 L557.9 556.6 L558.5 558.6 L559.2 558.9 L560.0 558.3 L560.8 558.1 L561.5 558.6 L562.2 559.5 L563.0 560.2 L563.8 558.8 L564.5 558.4 L565.2 557.7 L566.0 558.5 L566.8 557.5 L567.5 556.5 L568.2 555.8 L569.0 556.1 L569.8 557.1 L570.4 557.7 L571.0 557.4 L571.6 557.7 L572.2 556.7 L573.1 552.0 L574.0 546.8 L574.6 547.3 L575.3 547.0 L576.0 545.0 L576.6 545.1 L577.2 544.4 L578.0 543.6 L578.8 542.9 L579.5 541.9 L580.2 540.8 L581.0 541.3 L581.8 540.0 L582.5 540.5 L583.2 538.6 L584.0 538.6 L584.7 537.2 L585.3 536.1 L586.0 536.0 L586.6 537.0 L587.2 536.8 L587.9 535.9 L588.5 536.8 L589.2 536.1 L590.0 536.8 L590.8 535.5 L591.5 534.9 L592.2 535.3 L592.9 534.1 L593.5 533.9 L594.1 534.6 L594.8 534.4 L595.4 534.8 L596.0 535.4 L596.6 536.4 L597.2 539.5 L597.9 538.2 L598.5 538.2 L599.2 538.3 L599.9 536.7 L600.5 535.6 L601.1 535.0 L601.8 533.3 L602.4 530.9 L603.0 529.7 L603.9 528.7 L604.8 528.0 L605.4 523.9 L606.1 522.2 L606.8 519.9 L607.5 518.6 L608.2 517.5 L609.0 514.4 L609.7 515.0 L610.3 516.5 L611.0 518.6 L611.6 519.0 L612.2 517.5 L612.9 516.1 L613.5 515.6 L614.1 515.9 L614.8 517.2 L615.4 516.5 L616.0 517.3 L616.6 518.4 L617.2 519.4 L617.9 520.1 L618.5 520.0 L619.2 520.6 L620.0 521.0 L620.8 521.8 L621.5 523.4 L622.1 521.9 L622.8 520.9 L623.4 521.3 L624.0 520.5 L624.6 518.5 L625.2 517.1 L625.9 517.1 L626.5 516.6 L627.1 517.3 L627.8 517.5 L628.4 517.8 L629.0 516.0 L629.6 515.4 L630.2 515.1 L630.9 516.0 L631.5 517.0 L632.1 517.4 L632.8 517.4 L633.5 518.0 L634.1 519.0 L634.8 519.7 L635.4 520.9 L636.0 521.9 L636.6 522.4 L637.2 521.9 L637.9 523.2 L638.5 523.1 L639.1 524.0 L639.8 524.4 L640.4 523.3 L641.0 520.9 L641.6 519.0 L642.2 517.7 L642.9 516.9 L643.5 518.4 L644.1 518.5 L644.8 518.1 L645.4 519.8 L646.0 522.9 L646.6 524.4 L647.2 525.6 L647.9 525.3 L648.5 524.5 L649.1 524.4 L649.8 522.0 L650.4 521.6 L651.0 522.0 L651.6 522.2 L652.2 521.5 L652.9 521.8 L653.5 522.7 L654.1 523.4 L654.8 525.1 L655.4 525.1 L656.0 524.2 L656.6 524.1 L657.2 522.2 L657.9 522.1 L658.5 520.6 L659.1 518.9 L659.8 518.5 L660.4 520.1 L661.0 519.3 L661.6 520.2 L662.2 520.9 L662.9 519.7 L663.5 519.0 L664.1 517.8 L664.8 517.6 L665.4 516.6 L666.0 516.9 L666.6 517.0 L667.2 516.2 L667.9 514.6 L668.5 514.3 L669.1 514.8 L669.8 514.1 L670.6 509.3 L671.5 505.2 L672.2 504.5 L672.8 503.4 L673.5 501.6 L674.1 500.3 L674.8 500.4 L675.4 500.6 L676.0 500.8 L676.6 499.7 L677.2 499.2 L677.9 499.9 L678.5 499.8 L679.1 499.1 L679.8 498.7 L680.4 499.8 L681.0 498.9 L681.6 499.8 L682.2 500.2 L682.9 500.9 L683.5 502.3 L684.2 503.9 L684.8 503.3 L685.5 503.1 L686.1 502.5 L686.8 500.6 L687.4 498.7 L688.0 499.1 L688.6 498.7 L689.2 499.3 L689.9 498.6 L690.5 498.7 L691.1 499.3 L691.8 499.0 L692.4 498.8 L693.0 500.4 L693.8 501.0 L694.5 502.3 L695.2 501.3 L696.0 502.0 L696.6 502.0 L697.2 502.5 L697.9 502.1 L698.5 502.8 L699.1 504.3 L699.8 507.1 L700.4 507.4 L701.0 509.4 L701.6 509.4 L702.2 509.6 L702.9 507.7 L703.5 506.6 L704.1 508.2 L704.8 509.6 L705.4 509.6 L706.0 509.2 L706.6 510.4 L707.2 510.2 L707.9 511.4 L708.5 511.1 L709.2 511.1 L710.0 509.0 L710.8 508.9 L711.5 507.5" fill="none" stroke="#000" stroke-width="2.2" stroke-linejoin="round"/>
<g fill-opacity="0.6"><path d="M76.0 652.0 L76.0 588.2 L76.8 588.4 L77.7 589.8 L78.5 588.6 L79.3 591.2 L80.2 593.8 L81.0 595.4 L81.8 595.1 L82.5 595.5 L83.2 596.1 L84.0 594.0 L84.8 594.0 L85.5 591.5 L86.2 592.5 L87.0 592.1 L87.8 589.3 L88.5 590.0 L89.2 588.3 L89.8 584.5 L90.2 582.1 L90.2 652.0Z" fill="#66e6aa"/><path d="M90.2 652.0 L90.2 582.1 L90.5 580.2 L90.9 581.9 L90.9 652.0Z" fill="#96ee50"/><path d="M90.9 652.0 L90.9 581.9 L91.4 584.1 L92.2 588.6 L93.1 591.1 L93.9 592.5 L94.8 595.9 L95.6 594.1 L96.4 592.6 L97.2 593.7 L98.1 591.3 L98.9 590.9 L99.8 588.4 L100.6 591.0 L101.4 592.8 L102.2 594.9 L103.0 594.5 L103.8 593.4 L104.5 595.1 L105.2 595.9 L106.0 594.5 L106.7 595.4 L107.4 594.0 L108.1 592.9 L108.9 592.6 L109.6 591.7 L110.3 593.7 L111.0 593.8 L111.8 594.9 L112.6 594.1 L113.3 595.6 L114.1 596.1 L114.9 593.4 L115.7 592.7 L116.5 594.7 L117.2 594.1 L118.1 596.8 L118.9 596.6 L119.8 596.4 L120.4 601.8 L121.0 607.4 L121.8 609.2 L122.7 610.4 L123.5 613.8 L124.3 615.7 L125.2 616.6 L126.0 615.5 L126.8 612.9 L127.7 610.4 L128.5 609.5 L129.2 610.3 L130.0 609.4 L130.8 610.2 L131.5 610.3 L132.2 610.1 L133.0 611.1 L133.8 610.0 L134.5 611.3 L135.2 610.3 L136.0 611.5 L136.8 610.5 L137.5 610.4 L138.2 612.7 L139.0 613.4 L139.8 612.1 L140.5 612.6 L141.2 610.3 L142.0 609.3 L142.8 609.9 L143.5 608.7 L144.2 607.4 L144.9 609.5 L145.6 607.9 L146.4 607.3 L147.1 608.6 L147.8 607.9 L148.5 607.8 L149.2 606.1 L150.0 605.3 L150.8 606.4 L151.5 605.8 L152.2 606.8 L153.1 603.0 L153.9 599.8 L154.8 597.6 L155.5 597.1 L156.2 596.6 L157.0 597.1 L157.8 594.8 L158.5 593.9 L159.2 594.4 L160.0 594.5 L160.8 592.2 L161.5 590.4 L162.2 590.9 L162.9 583.0 L163.5 571.9 L163.8 571.2 L163.8 652.0Z" fill="#66e6aa"/><path d="M163.8 652.0 L163.8 571.2 L164.1 570.3 L164.8 566.8 L165.4 569.8 L166.0 571.0 L166.6 566.2 L166.6 652.0Z" fill="#fcb150"/><path d="M166.6 652.0 L166.6 566.2 L166.6 566.0 L167.2 562.2 L167.3 562.3 L167.3 652.0Z" fill="#fcdf66"/><path d="M167.3 652.0 L167.3 562.3 L168.1 564.3 L169.0 564.2 L169.8 568.6 L170.0 569.6 L170.0 652.0Z" fill="#fcb150"/><path d="M170.0 652.0 L170.0 569.6 L170.5 571.7 L171.4 565.2 L171.8 561.4 L171.8 652.0Z" fill="#fcdf66"/><path d="M171.8 652.0 L171.8 561.4 L172.2 557.4 L173.1 549.2 L174.0 541.4 L174.8 535.8 L175.5 528.8 L176.1 532.8 L176.8 539.1 L177.4 540.3 L178.0 539.9 L178.9 545.5 L179.8 552.6 L180.6 556.1 L181.5 559.8 L181.6 559.9 L181.6 652.0Z" fill="#fc7878"/><path d="M181.6 652.0 L181.6 559.9 L182.2 560.2 L182.8 562.1 L183.5 563.4 L184.2 557.2 L184.7 553.7 L184.7 652.0Z" fill="#fcb150"/><path d="M184.7 652.0 L184.7 553.7 L184.8 552.8 L185.5 549.2 L186.4 550.4 L187.2 553.8 L187.8 558.2 L187.8 652.0Z" fill="#fc7878"/><path d="M187.8 652.0 L187.8 558.2 L187.9 558.8 L188.5 563.0 L189.3 564.4 L190.2 565.2 L191.0 565.1 L191.8 563.5 L192.7 561.8 L193.5 561.9 L194.3 564.4 L195.2 566.4 L196.0 568.0 L196.0 652.0Z" fill="#fcb150"/><path d="M196.0 652.0 L196.0 568.0 L196.8 571.4 L197.7 577.1 L198.5 582.0 L199.3 582.8 L200.2 581.8 L201.0 582.8 L201.8 582.3 L202.7 583.5 L203.5 584.9 L204.2 583.8 L204.8 581.3 L205.0 580.4 L205.0 652.0Z" fill="#fcdf66"/><path d="M205.0 652.0 L205.0 580.4 L205.5 577.8 L205.7 577.5 L205.7 652.0Z" fill="#fcb150"/><path d="M205.7 652.0 L205.7 577.5 L206.4 576.4 L207.2 573.2 L208.1 574.1 L208.9 575.6 L209.8 576.7 L210.6 580.2 L211.4 580.9 L211.8 581.8 L211.8 652.0Z" fill="#fcdf66"/><path d="M211.8 652.0 L211.8 581.8 L212.2 582.8 L213.1 585.8 L213.9 586.7 L214.8 587.6 L215.5 587.5 L216.2 587.9 L217.0 588.4 L217.8 586.9 L218.5 588.2 L219.2 589.9 L219.9 590.4 L220.6 590.2 L221.4 589.0 L222.1 589.4 L222.8 589.2 L223.5 588.4 L223.7 587.8 L223.7 652.0Z" fill="#96ee50"/><path d="M223.7 652.0 L223.7 587.8 L224.3 585.8 L225.2 580.1 L226.0 577.2 L226.8 574.8 L227.7 574.9 L228.5 574.4 L229.2 572.2 L230.0 572.1 L230.8 570.8 L231.5 569.9 L232.2 569.1 L233.0 568.0 L233.0 652.0Z" fill="#fcdf66"/><path d="M233.0 652.0 L233.0 568.0 L233.1 567.9 L233.9 565.8 L234.8 566.2 L235.0 567.3 L235.0 652.0Z" fill="#fcb150"/><path d="M235.0 652.0 L235.0 567.3 L235.8 570.6 L236.0 571.4 L236.8 571.5 L237.7 574.9 L238.5 576.1 L239.4 577.9 L239.7 578.7 L239.7 652.0Z" fill="#fcdf66"/><path d="M239.7 652.0 L239.7 578.7 L240.2 580.2 L240.8 589.6 L241.5 593.9 L241.5 652.0Z" fill="#66e6aa"/><path d="M241.5 652.0 L241.5 593.9 L242.2 596.7 L243.1 595.2 L244.0 594.9 L244.7 595.5 L245.3 595.1 L246.0 592.4 L246.8 592.0 L247.5 590.3 L248.2 588.4 L249.0 588.2 L249.8 588.6 L250.5 589.0 L251.2 588.2 L252.0 587.0 L252.0 652.0Z" fill="#96ee50"/><path d="M252.0 652.0 L252.0 587.0 L252.5 582.3 L253.2 576.6 L254.0 572.2 L254.6 568.6 L254.6 652.0Z" fill="#fcdf66"/><path d="M254.6 652.0 L254.6 568.6 L254.8 567.7 L255.3 567.8 L255.3 652.0Z" fill="#fcb150"/><path d="M255.3 652.0 L255.3 567.8 L255.6 567.9 L256.4 569.6 L257.2 571.9 L258.0 570.9 L258.8 569.3 L259.5 569.8 L260.2 570.1 L260.7 568.5 L260.7 652.0Z" fill="#fcdf66"/><path d="M260.7 652.0 L260.7 568.5 L261.0 567.5 L261.4 567.6 L261.4 652.0Z" fill="#fcb150"/><path d="M261.4 652.0 L261.4 567.6 L261.8 567.8 L262.7 568.2 L263.5 572.1 L264.2 570.7 L264.9 572.2 L265.6 572.7 L266.4 572.2 L267.1 573.6 L267.8 571.8 L268.5 572.3 L269.2 572.2 L269.9 571.3 L270.6 573.7 L271.4 573.0 L272.1 572.4 L272.8 571.8 L273.5 574.0 L274.2 573.0 L275.0 572.9 L275.8 572.3 L276.0 565.6 L276.0 652.0Z" fill="#fcdf66"/><path d="M276.0 652.0 L276.0 565.6 L276.2 558.9 L276.9 560.8 L277.6 560.6 L278.4 559.0 L279.1 559.2 L279.8 558.9 L280.6 556.8 L281.4 557.3 L281.5 557.4 L281.5 652.0Z" fill="#fc7878"/><path d="M281.5 652.0 L281.5 557.4 L282.2 558.2 L282.8 571.5 L283.6 571.2 L284.4 572.0 L285.2 573.8 L286.0 574.5 L286.8 573.3 L287.7 572.3 L288.5 569.6 L289.0 570.6 L289.0 652.0Z" fill="#fcdf66"/><path d="M289.0 652.0 L289.0 570.6 L289.2 571.1 L289.7 572.0 L289.7 652.0Z" fill="#fcb150"/><path d="M289.7 652.0 L289.7 572.0 L290.0 572.5 L290.8 570.7 L291.5 572.8 L292.2 572.7 L292.9 571.1 L293.6 570.6 L294.4 570.7 L295.0 571.4 L295.0 652.0Z" fill="#fcdf66"/><path d="M295.0 652.0 L295.0 571.4 L295.1 571.5 L295.8 569.7 L296.5 556.0 L297.0 555.5 L297.0 652.0Z" fill="#fcb150"/><path d="M297.0 652.0 L297.0 555.5 L297.2 555.3 L298.1 553.0 L298.9 550.4 L299.8 545.1 L300.6 543.2 L301.4 539.2 L302.2 537.3 L303.1 536.3 L303.9 534.1 L304.8 531.5 L305.6 529.7 L306.4 530.3 L307.2 529.4 L308.1 533.2 L308.9 534.1 L309.8 535.5 L310.4 530.0 L311.0 525.3 L311.8 521.6 L312.7 515.1 L313.5 509.0 L314.2 504.5 L314.8 500.9 L315.5 497.4 L316.1 488.0 L316.8 477.6 L317.4 486.7 L318.0 493.8 L318.9 499.8 L319.8 504.0 L320.6 505.1 L321.4 508.2 L322.2 509.0 L323.1 501.5 L324.0 496.5 L324.8 492.3 L325.5 487.6 L326.4 481.9 L327.2 475.1 L328.1 484.2 L329.0 493.1 L329.8 495.6 L330.5 499.0 L331.4 492.8 L332.2 486.5 L332.9 484.7 L333.5 482.3 L334.4 489.9 L335.2 497.7 L335.9 500.1 L336.6 501.1 L337.2 503.0 L338.1 502.9 L339.0 501.7 L339.7 499.5 L340.3 499.5 L341.0 498.1 L341.6 504.6 L342.2 510.0 L343.1 511.5 L343.9 514.4 L344.8 517.0 L345.6 519.0 L346.4 518.9 L347.2 522.4 L348.0 523.3 L348.8 523.6 L349.5 525.0 L349.8 546.2 L349.8 652.0Z" fill="#fc7878"/><path d="M349.8 652.0 L349.8 546.2 L350.0 567.4 L351.0 568.4 L351.7 569.3 L352.4 567.6 L353.1 568.4 L353.9 568.4 L354.6 570.4 L355.3 571.5 L356.0 569.7 L356.7 569.8 L357.4 568.7 L358.1 569.1 L358.9 570.8 L359.6 572.1 L360.3 571.4 L361.0 570.7 L361.8 570.1 L362.5 571.5 L363.2 573.6 L364.0 572.2 L364.8 573.6 L365.6 571.6 L366.4 570.7 L367.2 571.1 L368.2 570.6 L368.5 562.3 L368.5 652.0Z" fill="#fcdf66"/><path d="M368.5 652.0 L368.5 562.3 L368.8 554.1 L369.5 551.9 L369.8 551.6 L369.8 652.0Z" fill="#fcb150"/><path d="M369.8 652.0 L369.8 551.6 L370.2 551.1 L371.0 548.8 L371.8 547.4 L372.2 545.7 L372.2 652.0Z" fill="#fcdf66"/><path d="M372.2 652.0 L372.2 545.7 L372.7 544.1 L373.5 542.9 L373.5 652.0Z" fill="#fcb150"/><path d="M373.5 652.0 L373.5 542.9 L374.3 543.3 L375.2 544.1 L376.0 546.6 L376.8 545.5 L377.2 545.0 L377.2 652.0Z" fill="#fcdf66"/><path d="M377.2 652.0 L377.2 545.0 L377.7 544.5 L378.5 544.1 L378.5 652.0Z" fill="#fcb150"/><path d="M378.5 652.0 L378.5 544.1 L379.3 542.9 L380.2 540.7 L381.0 539.9 L381.8 540.7 L382.2 541.2 L382.2 652.0Z" fill="#fcdf66"/><path d="M382.2 652.0 L382.2 541.2 L382.7 541.8 L383.5 542.1 L384.3 542.5 L385.2 541.4 L386.0 540.4 L386.0 652.0Z" fill="#fcb150"/><path d="M386.0 652.0 L386.0 540.4 L386.5 530.8 L387.2 530.8 L387.8 530.6 L388.5 529.4 L389.3 528.0 L390.2 526.3 L391.0 526.4 L391.8 525.9 L392.7 528.1 L393.5 528.1 L394.2 527.8 L395.0 527.8 L395.8 529.6 L396.0 534.2 L396.7 534.4 L397.3 538.0 L398.0 539.4 L398.8 542.9 L399.5 544.1 L399.8 547.9 L399.8 652.0Z" fill="#fc7878"/><path d="M399.8 652.0 L399.8 547.9 L400.0 551.6 L400.7 553.5 L401.4 553.0 L402.1 553.9 L402.8 556.6 L403.5 558.8 L404.2 561.7 L405.0 560.7 L405.8 562.0 L406.5 564.1 L407.2 564.7 L408.0 566.6 L408.8 566.4 L409.5 566.5 L410.2 567.2 L411.0 569.3 L411.8 571.4 L412.7 574.2 L413.5 576.9 L414.3 574.0 L415.2 571.9 L416.0 571.0 L416.8 572.3 L417.5 574.2 L418.2 575.1 L419.0 572.9 L419.8 572.5 L420.5 573.4 L421.2 572.5 L422.0 572.8 L422.8 571.2 L423.5 570.7 L424.2 570.2 L425.0 569.5 L425.8 569.5 L426.5 567.2 L427.2 568.2 L428.0 570.1 L428.8 569.3 L429.5 570.1 L430.2 571.8 L431.0 572.0 L431.8 571.7 L432.5 571.8 L433.2 573.4 L434.0 572.9 L434.8 575.8 L435.5 577.6 L436.2 578.6 L437.0 579.9 L437.8 580.3 L438.5 579.8 L439.5 584.8 L439.8 588.1 L439.8 652.0Z" fill="#fcdf66"/><path d="M439.8 652.0 L439.8 588.1 L440.2 594.7 L441.1 596.0 L441.9 595.9 L442.7 593.9 L443.5 594.0 L444.3 594.5 L445.2 594.3 L446.0 593.1 L446.8 593.7 L447.5 595.5 L448.2 595.6 L448.5 600.2 L448.5 652.0Z" fill="#96ee50"/><path d="M448.5 652.0 L448.5 600.2 L449.0 609.2 L449.8 610.0 L450.5 609.8 L451.2 608.4 L452.0 608.6 L452.8 606.4 L453.5 606.5 L454.2 605.6 L455.0 603.5 L455.8 603.1 L456.5 603.6 L457.2 603.3 L458.1 601.8 L459.0 602.5 L459.3 602.6 L459.3 652.0Z" fill="#66e6aa"/><path d="M459.3 652.0 L459.3 602.6 L459.8 602.8 L460.6 601.5 L461.4 601.7 L462.2 601.0 L463.1 601.6 L463.9 601.4 L464.8 602.8 L465.0 603.5 L465.0 652.0Z" fill="#96ee50"/><path d="M465.0 652.0 L465.0 603.5 L465.4 604.6 L466.0 605.2 L466.6 608.1 L467.2 609.5 L468.0 607.5 L468.8 607.5 L469.5 607.7 L470.2 606.0 L471.0 605.5 L471.8 604.4 L472.5 604.7 L473.2 605.7 L474.0 605.5 L474.8 607.2 L475.5 608.6 L476.2 608.9 L477.0 608.9 L477.8 610.5 L478.5 609.6 L479.2 610.9 L480.0 609.9 L480.8 609.8 L481.5 607.1 L482.2 607.1 L483.1 607.8 L483.9 605.6 L484.8 607.0 L485.6 608.6 L486.5 611.8 L487.3 611.1 L488.1 612.2 L488.9 613.5 L489.8 613.2 L490.5 614.4 L491.2 613.5 L492.0 613.2 L492.8 613.2 L493.5 612.4 L494.2 611.5 L495.0 612.4 L495.8 612.4 L496.5 611.5 L497.2 612.2 L498.0 611.3 L498.8 609.6 L499.5 609.3 L500.2 608.4 L501.0 609.4 L501.6 608.3 L502.0 607.3 L502.0 652.0Z" fill="#66e6aa"/><path d="M502.0 652.0 L502.0 607.3 L502.2 606.7 L502.9 604.2 L503.5 600.2 L504.3 597.9 L505.2 599.1 L506.0 598.1 L506.8 596.5 L507.5 597.7 L508.2 596.7 L509.0 596.2 L509.8 596.6 L510.5 595.6 L511.2 595.4 L512.0 596.5 L512.8 596.4 L513.5 594.9 L514.2 596.8 L515.0 597.2 L515.8 596.8 L516.5 595.1 L517.2 595.8 L518.2 592.2 L518.2 652.0Z" fill="#96ee50"/><path d="M518.2 652.0 L518.2 592.2 L518.2 592.0 L519.0 585.2 L519.8 583.3 L520.6 584.1 L521.4 583.0 L522.2 583.9 L523.1 583.6 L523.9 582.6 L524.8 581.5 L525.6 582.2 L526.4 582.4 L527.2 583.6 L528.0 584.3 L528.8 586.2 L529.5 587.4 L530.2 587.5 L531.0 585.9 L531.8 586.5 L532.0 587.6 L532.0 652.0Z" fill="#fcdf66"/><path d="M532.0 652.0 L532.0 587.6 L532.5 589.9 L533.2 590.9 L533.9 590.7 L534.6 589.7 L535.3 588.8 L536.0 589.6 L536.8 589.9 L537.0 589.9 L537.0 652.0Z" fill="#c8e65a"/><path d="M537.0 652.0 L537.0 589.9 L537.6 590.0 L538.3 590.2 L539.1 590.8 L539.9 589.1 L540.7 588.4 L541.5 590.6 L542.2 590.5 L542.8 588.4 L542.8 652.0Z" fill="#96ee50"/><path d="M542.8 652.0 L542.8 588.4 L542.9 588.1 L543.5 581.9 L544.2 580.5 L544.9 580.7 L545.6 581.4 L546.4 582.5 L547.1 581.4 L547.8 582.4 L548.5 582.3 L549.2 581.1 L550.0 583.0 L550.8 583.8 L551.5 584.6 L552.2 584.4 L553.0 584.0 L553.6 582.9 L554.4 582.6 L555.0 583.7 L555.8 583.9 L556.0 585.4 L557.0 590.6 L557.0 652.0Z" fill="#fcdf66"/><path d="M557.0 652.0 L557.0 590.6 L557.8 591.7 L558.6 592.2 L559.4 593.0 L560.2 591.6 L561.0 591.8 L561.7 590.8 L562.4 592.1 L563.1 591.3 L563.9 591.7 L564.6 593.0 L565.3 591.4 L566.0 591.0 L566.8 591.4 L567.7 591.9 L568.5 589.9 L568.5 652.0Z" fill="#96ee50"/><path d="M568.5 652.0 L568.5 589.9 L569.2 589.3 L569.9 587.6 L570.0 587.9 L570.0 652.0Z" fill="#fcdf66"/><path d="M570.0 652.0 L570.0 587.9 L570.6 589.3 L571.3 587.4 L572.0 587.2 L572.3 585.5 L572.3 652.0Z" fill="#96ee50"/><path d="M572.3 652.0 L572.3 585.5 L572.8 583.0 L573.5 579.2 L574.3 577.7 L575.2 574.8 L576.0 573.6 L576.8 571.7 L577.5 570.7 L578.2 571.4 L579.0 569.7 L579.8 570.0 L580.5 570.4 L581.1 570.9 L581.9 569.6 L582.5 568.3 L583.2 568.9 L584.0 558.3 L584.3 558.2 L584.3 652.0Z" fill="#fcdf66"/><path d="M584.3 652.0 L584.3 558.2 L584.8 558.1 L585.6 557.3 L586.4 559.1 L587.2 559.6 L588.0 561.0 L588.8 561.8 L589.5 562.2 L590.2 560.8 L591.0 560.4 L591.8 559.0 L592.7 557.4 L593.5 556.7 L594.1 560.7 L594.2 560.9 L594.2 652.0Z" fill="#fcb150"/><path d="M594.2 652.0 L594.2 560.9 L594.8 563.0 L595.4 563.5 L596.0 564.3 L596.8 563.6 L597.5 563.2 L598.2 562.9 L599.0 562.7 L599.8 562.5 L600.6 557.0 L601.5 552.3 L601.5 652.0Z" fill="#fcdf66"/><path d="M601.5 652.0 L601.5 552.3 L602.2 552.1 L602.8 552.6 L603.5 551.2 L604.4 548.3 L605.2 547.3 L605.4 545.9 L605.4 652.0Z" fill="#fcb150"/><path d="M605.4 652.0 L605.4 545.9 L606.0 540.5 L606.8 530.8 L607.6 526.7 L608.5 525.4 L609.2 527.5 L609.8 530.0 L610.5 532.8 L611.4 535.9 L612.2 537.9 L613.1 536.1 L613.9 536.1 L614.8 536.2 L615.6 536.1 L616.4 536.3 L617.2 539.4 L617.9 543.8 L618.5 545.4 L618.5 652.0Z" fill="#fc7878"/><path d="M618.5 652.0 L618.5 545.4 L619.1 546.4 L619.8 546.4 L620.6 548.9 L621.4 550.9 L622.2 551.7 L623.1 550.3 L623.9 551.4 L624.8 550.8 L625.4 548.6 L626.0 544.6 L626.0 652.0Z" fill="#fcb150"/><path d="M626.0 652.0 L626.0 544.6 L626.6 542.8 L627.2 542.7 L628.1 544.2 L628.9 544.4 L629.8 544.8 L630.6 546.4 L631.4 547.4 L632.2 548.1 L632.2 652.0Z" fill="#fc7878"/><path d="M632.2 652.0 L632.2 548.1 L632.9 550.4 L633.5 552.8 L634.3 555.5 L635.2 558.2 L636.0 559.3 L636.8 561.0 L637.7 561.7 L638.5 561.0 L638.5 652.0Z" fill="#fcb150"/><path d="M638.5 652.0 L638.5 561.0 L639.1 562.2 L639.8 561.4 L640.4 562.1 L641.0 561.6 L641.0 652.0Z" fill="#fcdf66"/><path d="M641.0 652.0 L641.0 561.6 L641.6 557.1 L642.2 552.1 L643.1 551.7 L643.9 553.9 L644.8 555.4 L644.8 652.0Z" fill="#fcb150"/><path d="M644.8 652.0 L644.8 555.4 L645.4 559.4 L646.0 562.8 L646.8 562.2 L647.7 563.0 L648.5 563.9 L649.2 562.3 L649.8 559.3 L649.8 652.0Z" fill="#fcdf66"/><path d="M649.8 652.0 L649.8 559.3 L650.0 557.7 L650.7 557.0 L651.3 556.3 L652.0 558.0 L652.2 559.5 L652.2 652.0Z" fill="#fcb150"/><path d="M652.2 652.0 L652.2 559.5 L652.8 562.6 L653.5 565.4 L654.3 564.3 L655.2 565.4 L656.0 566.8 L656.8 564.4 L657.2 560.8 L657.2 652.0Z" fill="#fcdf66"/><path d="M657.2 652.0 L657.2 560.8 L657.5 559.0 L658.2 557.4 L658.9 556.9 L659.6 556.6 L660.3 556.4 L661.0 558.1 L661.0 652.0Z" fill="#fcb150"/><path d="M661.0 652.0 L661.0 558.1 L661.6 559.0 L662.2 559.1 L663.1 556.7 L663.5 556.5 L663.5 652.0Z" fill="#fcdf66"/><path d="M663.5 652.0 L663.5 556.5 L664.0 556.2 L664.8 554.4 L665.6 555.5 L666.4 554.4 L667.2 554.4 L668.1 553.8 L668.9 551.6 L669.8 549.2 L669.8 652.0Z" fill="#fcb150"/><path d="M669.8 652.0 L669.8 549.2 L670.5 537.5 L671.4 535.8 L672.2 531.0 L672.9 530.0 L673.5 529.2 L674.3 530.4 L675.2 530.3 L676.0 531.1 L676.8 532.1 L677.7 532.5 L678.5 530.9 L679.2 530.6 L679.8 530.1 L680.5 529.2 L681.4 535.8 L682.2 540.1 L683.1 541.8 L684.0 543.6 L684.8 540.9 L685.5 539.0 L686.0 540.8 L686.0 652.0Z" fill="#fc7878"/><path d="M686.0 652.0 L686.0 540.8 L686.1 541.2 L686.8 542.5 L687.2 541.3 L687.2 652.0Z" fill="#fcb150"/><path d="M687.2 652.0 L687.2 541.3 L687.4 541.0 L688.0 537.9 L688.8 537.0 L689.7 537.3 L690.5 538.2 L691.3 541.2 L692.2 542.9 L693.0 544.8 L693.0 652.0Z" fill="#fc7878"/><path d="M693.0 652.0 L693.0 544.8 L693.5 549.3 L694.3 549.4 L695.2 550.2 L696.0 550.2 L696.8 551.5 L697.7 550.1 L698.5 552.1 L699.1 555.2 L699.8 556.7 L699.8 652.0Z" fill="#fcb150"/><path d="M699.8 652.0 L699.8 556.7 L700.4 557.2 L701.0 559.0 L701.8 560.5 L702.7 559.9 L703.5 561.6 L704.3 561.9 L705.2 564.1 L706.0 563.7 L706.8 565.4 L707.7 564.4 L708.5 565.1 L709.2 564.5 L710.0 565.5 L710.8 563.1 L711.5 563.2 L711.5 652.0Z" fill="#fcdf66"/></g>
<rect x="68" y="471" width="2" height="181" fill="#111"/>
<rect x="720" y="471" width="2" height="181" fill="#edb14b"/>
<g font-size="11.4" fill="#444" text-anchor="end"><text x="60.5" y="505.3">100K</text><text x="60.5" y="604">10K</text></g>
<g font-size="11" fill="#444"><text x="728.5" y="488.7">2.5</text><text x="728.5" y="522.2">2</text><text x="728.5" y="555.7">1.5</text><text x="728.5" y="589.2">1</text><text x="728.5" y="622.7">0.5</text><text x="728.5" y="656.2">0</text></g>
<g font-size="12.3" fill="#444" text-anchor="middle"><text x="131.5" y="676.9">2019</text><text x="223.7" y="676.9">2020</text><text x="315.8" y="676.9">2021</text><text x="408.0" y="676.9">2022</text><text x="500.1" y="676.9">2023</text><text x="592.2" y="676.9">2024</text><text x="684.4" y="676.9">2025</text></g>
</svg>
<div class="lg" style="left:0;top:333px"><i style="left:325px;background:#7c8b8e"></i><span style="left:336.5px">BTC: Price [USD]</span><i style="left:432.5px;background:#f7c6e1"></i><span style="left:445.5px">1y-3y</span></div>
<div class="lg" style="left:0;top:702.6px"><i style="left:87.5px;background:#000"></i><span style="left:100px">BTC: Price [USD]</span><i style="left:196px;background:#a4ecc7"></i><span style="left:207.7px">-1.0σ &gt; AVIV</span><i style="left:282px;background:#c3f09a"></i><span style="left:294.3px">-1.0σ &lt; AVIV &lt; -0.5σ</span><i style="left:406px;background:#fcea9f"></i><span style="left:418.3px">-0.5σ &lt; AVIV &lt; 0.5σ</span><i style="left:527.7px;background:#fccd92"></i><span style="left:540px">0.5σ &lt; AVIV &lt; 1.0σ</span><i style="left:642.7px;background:#f9a8a4"></i><span style="left:655px">AVIV &gt; 1.0σ</span></div>
</body></html>
